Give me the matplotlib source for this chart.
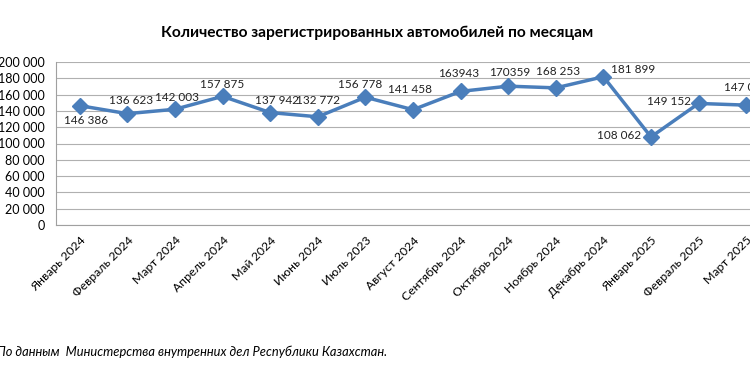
import matplotlib.pyplot as plt
from matplotlib.ticker import FuncFormatter

# Monthly registrations
months = ["Январь 2024", "Февраль 2024", "Март 2024", "Апрель 2024", "Май 2024",
          "Июнь 2024", "Июль 2023", "Август 2024", "Сентябрь 2024", "Октябрь 2024",
          "Ноябрь 2024", "Декабрь 2024", "Январь 2025", "Февраль 2025", "Март 2025"]
cars = [146386, 136623, 142003, 157875, 137942, 132772, 156778, 141458,
        163943, 170359, 168253, 181899, 108062, 149152, 147073]
value_labels = ["146 386", "136 623", "142 003", "157 875", "137 942", "132 772",
                "156 778", "141 458", "163943", "170359", "168 253", "181 899",
                "108 062", "149 152", "147 073"]
# label offsets in pixels (dx, dy)
offsets = [(6, -15), (4, 13), (2, 12), (0, 12), (7, 12), (0, 16), (-5, 13), (-3, 20),
           (-2, 18), (1, 14), (2, 16), (30, 7), (-32, 1), (-30, 2), (0, 18)]

plt.rcParams['font.family'] = ['Lato', 'DejaVu Sans']

fig = plt.figure(figsize=(7.5, 3.75), dpi=100)
ax = fig.add_axes([56 / 750, 1 - 225 / 375, 714 / 750, 163 / 375])

x = list(range(len(months)))
ax.plot(x, cars, color="#4a7ebb", lw=2.5, marker="D", markersize=8.5, zorder=3)

for xi, v, lab, (dx, dy) in zip(x, cars, value_labels, offsets):
    ax.annotate(lab, (xi, v), xytext=(dx, dy), textcoords="offset pixels",
                ha="center", va="center", fontsize=8.5, color="#222222")

ax.set_xlim(-0.5, len(months) - 0.5)
ax.set_ylim(0, 200000)
ax.set_yticks(range(0, 200001, 20000))
ax.yaxis.set_major_formatter(FuncFormatter(lambda v, p: f"{int(v):,}".replace(",", " ")))
ax.grid(axis="y", color="#b0b0b0", lw=0.8)
ax.set_axisbelow(True)

ax.set_xticks(x)
ax.set_xticklabels(months, rotation=45, ha="right", rotation_mode="anchor", fontsize=8.8)
ax.tick_params(axis="x", length=0, pad=7)
ax.tick_params(axis="y", length=0, pad=8, labelsize=9)

for s in ["top", "right"]:
    ax.spines[s].set_visible(False)
for s in ["left", "bottom"]:
    ax.spines[s].set_color("#a0a0a0")
    ax.spines[s].set_linewidth(0.8)

fig.text(0.503, 1 - 33 / 375, "Количество зарегистрированных автомобилей по месяцам",
         ha="center", va="center", fontsize=11.2, fontweight="bold")
fig.text(-0.004, 1 - 352 / 375, "По данным  Министерства внутренних дел Республики Казахстан.",
         ha="left", va="center", fontsize=9.3, style="italic")

fig.savefig("out.png", dpi=100)
